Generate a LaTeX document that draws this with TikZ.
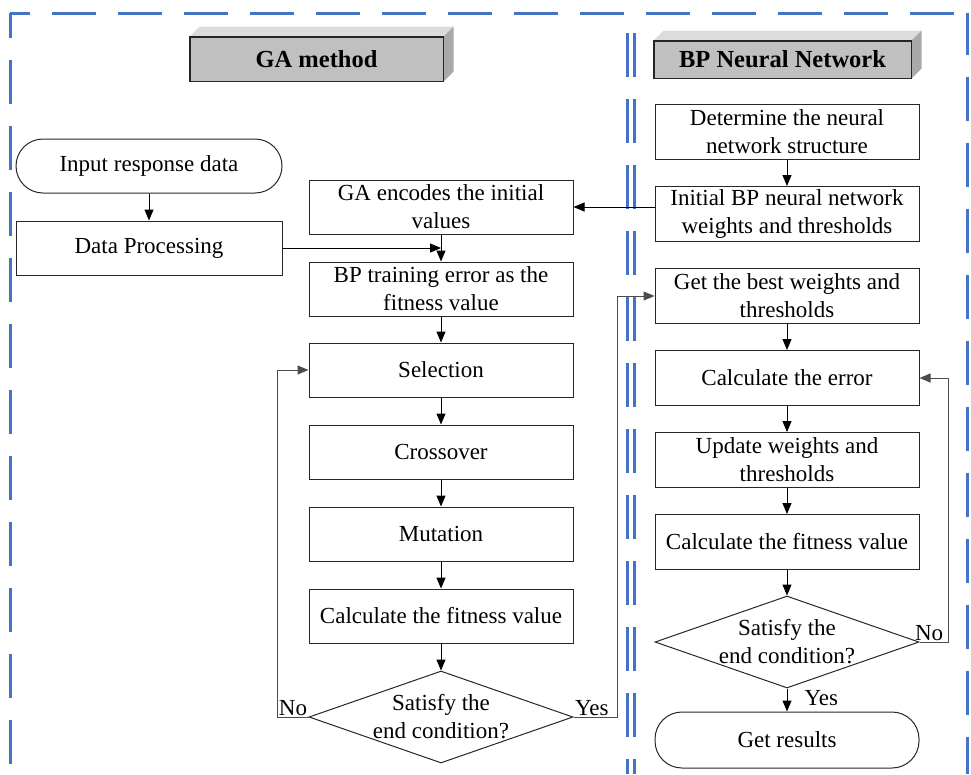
\documentclass[tikz,border=0pt]{standalone}
\usepackage{fontspec}
\setmainfont{Liberation Serif}
\usepackage{tikz}
\usetikzlibrary{shapes,arrows.meta}
\definecolor{frameblue}{HTML}{4472C4}
\definecolor{facegray}{HTML}{C0C0C0}
\definecolor{topgray}{HTML}{DCDCDC}
\definecolor{sidegray}{HTML}{A9A9A9}
\tikzset{%
  block/.style    = {draw=black!85, rectangle, minimum width=264pt,
    minimum height=54pt, align=center, inner sep=2pt},
  terminal/.style = {block, rounded corners=27pt}, % Start / end
  decision/.style = {draw=black!85, diamond, aspect=2.87, inner sep=0pt,
    minimum width=264pt, minimum height=92pt, align=center}, % Condition
  header/.style   = {draw=black!85, fill=facegray,
    font=\fontsize{24.5}{28}\selectfont\bfseries}, % Column title
  frame/.style    = {frameblue, line width=3pt, dash pattern=on 44pt off 22pt},
  loopline/.style = {draw=black!70}
}

\begin{document}
\begin{tikzpicture}[x=1pt, y=-1pt, line width=1pt, >={Triangle[length=11pt,width=9pt]},
  font=\fontsize{23}{28}\selectfont]
\useasboundingbox (0,0) rectangle (971,774);

% dashed frame
\draw[frame, dash phase=24pt] (10,13) -- (967,13);
\draw[frame, dash phase=19pt] (10,13) -- (10,774);
\draw[frame, dash phase=2pt] (967,13) -- (967,774);
\draw[frame] (627,33) -- (627,774);
\draw[frame] (634,33) -- (634,774);

\draw
    node at (316.5,59)[header, minimum width=253pt, minimum height=44pt, name=gahead]{GA method}
    node at (782.5,59.5)[header, minimum width=257pt, minimum height=37pt, name=bphead]{BP Neural Network}

    node at (149,166)[terminal, minimum width=266pt, name=indata]{Input response data}
    node at (149,248)[block, minimum width=266pt, name=dataproc]{Data Processing}

    node at (441,207)[block, name=encode]{GA encodes the initial\\values}
    node at (441,289)[block, name=trainerr]{BP training error as the\\fitness value}
    node at (441,370)[block, name=select]{Selection}
    node at (441,452)[block, name=cross]{Crossover}
    node at (441,534)[block, name=mutate]{Mutation}
    node at (441,616)[block, name=gafit]{Calculate the fitness value}
    node at (441,717)[decision, name=gadec]{Satisfy the\\end condition?}

    node at (787,132)[block, minimum height=55pt, name=netstruct]{Determine the neural\\network structure}
    node at (787,214)[block, minimum height=55pt, name=initw]{Initial BP neural network\\weights and thresholds}
    node at (787,296)[block, minimum height=55pt, name=bestw]{Get the best weights and\\thresholds}
    node at (787,378)[block, minimum height=55pt, name=calcerr]{Calculate the error}
    node at (787,460)[block, minimum height=55pt, name=updatew]{Update weights and\\thresholds}
    node at (787,542)[block, minimum height=55pt, name=bpfit]{Calculate the fitness value}
    node at (787,642)[decision, name=bpdec]{Satisfy the\\end condition?}
    node at (787,740)[terminal, minimum height=56pt, name=results]{Get results}
;

% 3D faces of the titles
\fill[topgray] (gahead.north west) -- ++(10,-10) -- ([shift={(10,-10)}]gahead.north east) -- (gahead.north east) -- cycle;
\fill[sidegray] (gahead.north east) -- ++(10,-10) -- ([shift={(10,-10)}]gahead.south east) -- (gahead.south east) -- cycle;
\draw[black!85] (gahead.south west) rectangle (gahead.north east);
\fill[topgray] (bphead.north west) -- ++(10,-10) -- ([shift={(10,-10)}]bphead.north east) -- (bphead.north east) -- cycle;
\fill[sidegray] (bphead.north east) -- ++(10,-10) -- ([shift={(10,-10)}]bphead.south east) -- (bphead.south east) -- cycle;
\draw[black!85] (bphead.south west) rectangle (bphead.north east);

% GA side
\draw[->](indata) -- (dataproc);
\draw[->](dataproc.east) -- (dataproc.east -| encode.south);
\draw[->](encode) -- (trainerr);
\draw[->](trainerr) -- (select);
\draw[->](select) -- (cross);
\draw[->](cross) -- (mutate);
\draw[->](mutate) -- (gafit);
\draw[->](gafit) -- (gadec);
\draw[->,loopline](gadec.west) -- ++(-31,0) |- (select.west);
\draw[->,loopline](gadec.east) -- ++(44,0) |- (bestw.west);
\node[anchor=south east, inner sep=1pt, name=gano] at (gadec.west) {No};
\node[anchor=south west, inner sep=1pt, name=gayes] at (gadec.east) {Yes};

% BP side
\draw[->](initw.west |- encode.east) -- (encode.east);
\draw[->](netstruct) -- (initw);
\draw[->](bestw) -- (calcerr);
\draw[->](calcerr) -- (updatew);
\draw[->](updatew) -- (bpfit);
\draw[->](bpfit) -- (bpdec);
\draw[->](bpdec) -- (results);
\draw[->,loopline](bpdec.east) -- ++(29,0) |- (calcerr.east);
\node[anchor=south west, inner sep=1pt, xshift=-6pt, name=bpno] at (bpdec.east) {No};
\node[anchor=north west, inner sep=1pt, xshift=16pt, name=bpyes] at (bpdec.south) {Yes};
\end{tikzpicture}
\end{document}
